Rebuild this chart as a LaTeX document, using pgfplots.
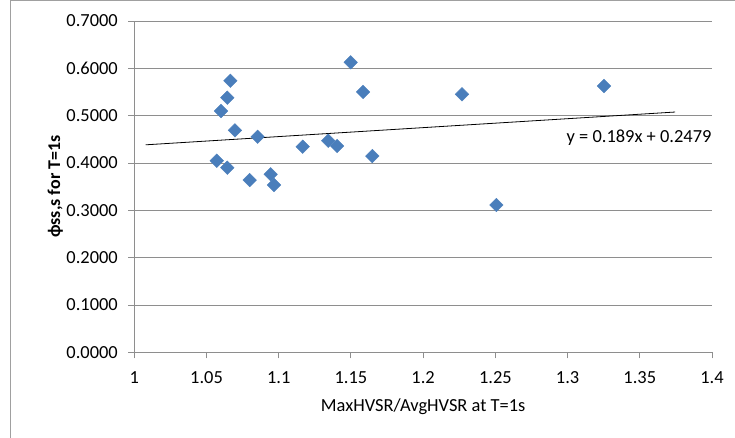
\documentclass[border=0pt]{standalone}
\usepackage{fontspec}
\setmainfont{Carlito}
\usepackage{pgfplots}
\pgfplotsset{compat=1.18}
\definecolor{markblue}{HTML}{4A7EBB}
\definecolor{gridgray}{HTML}{8E8E8E}
\definecolor{framegray}{HTML}{A0A0A0}

% phi_ss,s against the HVSR peak ratio at T = 1 s
\pgfplotstableread{
x       y
1.0571  0.4048
1.0644  0.3900
1.0600  0.5098
1.0644  0.5379
1.0665  0.5738
1.0697  0.4690
1.0799  0.3640
1.0854  0.4555
1.0944  0.3761
1.0967  0.3535
1.1166  0.4344
1.1343  0.4471
1.1404  0.4359
1.1498  0.6127
1.1584  0.5500
1.1648  0.4147
1.2269  0.5451
1.2507  0.3112
1.3252  0.5626
}\phidata

\begin{document}
\begin{tikzpicture}
\useasboundingbox (-134.3bp,-85.7bp) rectangle (600.7bp,352.3bp);
% chart area border
\draw[framegray, line width=1bp] (-123.3bp,-90bp) -- (-123.3bp,351.3bp) -- (610bp,351.3bp);
\begin{axis}[
  scale only axis,
  width=577.7bp, height=331.3bp,
  xmin=1, xmax=1.4, ymin=0, ymax=0.7,
  xtick={1,1.05,1.1,1.15,1.2,1.25,1.3,1.35,1.4},
  ytick={0,0.1,0.2,0.3,0.4,0.5,0.6,0.7},
  xticklabels={1,1.05,1.1,1.15,1.2,1.25,1.3,1.35,1.4},
  ymajorgrids,
  grid style={gridgray, line width=0.9bp},
  axis lines*=left,
  axis line style={gridgray, line width=0.9bp, -},
  tick align=outside,
  major tick length=6bp,
  tick style={gridgray, line width=0.9bp},
  /pgf/number format/assume math mode=true,
  yticklabel style={/pgf/number format/.cd, fixed, fixed zerofill, precision=4, /tikz/.cd, xshift=-7bp},
  xticklabel style={yshift=-10bp},
  ticklabel style={font=\fontsize{18.5}{22}\selectfont},
  every axis x label/.style={at={(axis description cs:0.5,0)}, yshift=-54.4bp, anchor=center,
    font=\fontsize{18.5}{22}\selectfont},
  xlabel={MaxHVSR/AvgHVSR at T=1s},
  ylabel={ϕss,s for T=1s},
  ylabel style={inner sep=0pt, font=\fontsize{18}{22}\selectfont\bfseries},
]
\addplot[only marks, mark=square*, mark size=4.8bp,
  mark options={rotate=45, fill=markblue, draw=markblue}] table[x=x, y=y] {\phidata};
% linear trend: y = 0.189x + 0.2479
\addplot[black, line width=0.8bp] coordinates {(1.0079,0.43839) (1.3744,0.50766)};
\node[font=\fontsize{18.5}{22}\selectfont] at (axis cs:1.3495,0.4528) {y = 0.189x + 0.2479};
\end{axis}
\end{tikzpicture}
\end{document}
